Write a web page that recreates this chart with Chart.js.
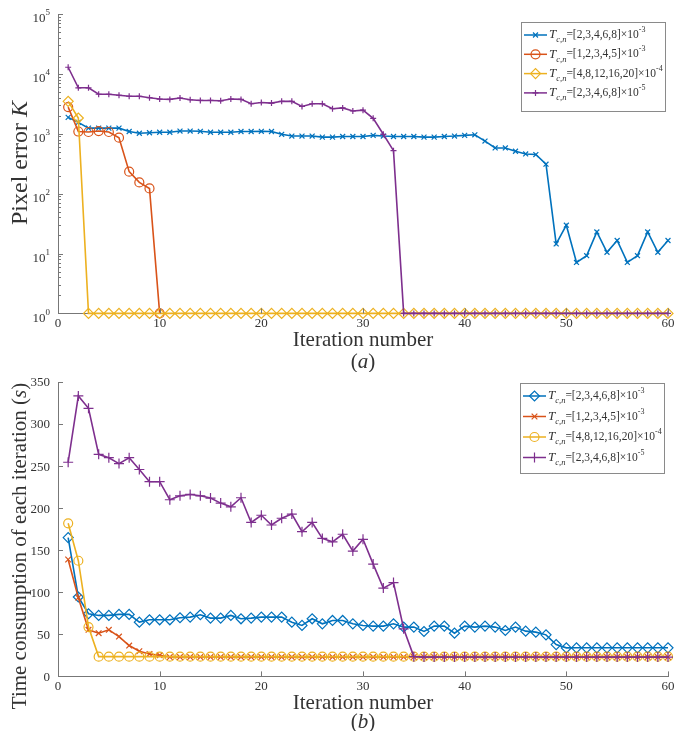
<!DOCTYPE html>
<html>
<head>
<meta charset="utf-8">
<script src="https://cdn.jsdelivr.net/npm/chart.js@4.4.0/dist/chart.umd.min.js"></script>
<style>
body { margin: 0; background: #fff; width: 680px; height: 731px; overflow: hidden; position: relative; }
canvas { position: absolute; left: 0; }
#grafica_a { top: 0; }
#grafica_b { top: 366px; }
</style>
</head>
<body>
<canvas id="grafica_a" width="680" height="372"></canvas>
<canvas id="grafica_b" width="680" height="365"></canvas>
<script>
// datos
const iteraciones = [1,2,3,4,5,6,7,8,9,10,11,12,13,14,15,16,17,18,19,20,
  21,22,23,24,25,26,27,28,29,30,31,32,33,34,35,36,37,38,39,40,
  41,42,43,44,45,46,47,48,49,50,51,52,53,54,55,56,57,58,59,60];

const nombresSerie = ['=[2,3,4,6,8]\u00d710', '=[1,2,3,4,5]\u00d710', '=[4,8,12,16,20]\u00d710', '=[2,3,4,6,8]\u00d710'];
const exponentesSerie = ['-3', '-3', '-4', '-5'];

const ticksX = [0, 10, 20, 30, 40, 50, 60];
const ticksErrorY = [1, 10, 100, 1000, 10000, 100000];
const exponentesErrorY = ['0', '1', '2', '3', '4', '5'];
const ticksTiempoY = [0, 50, 100, 150, 200, 250, 300, 350];

// (a) error de pixel K
const errorSerie1 = [1880,1550,1240,1240,1240,1240,1090,1020,1040,1060,
  1060,1110,1110,1100,1060,1060,1060,1090,1090,1100,
  1090,980,915,915,915,880,880,900,900,900,
  940,915,900,900,900,880,880,900,915,940,
  960,755,580,580,510,460,450,310,14.5,29.7,
  7.1,9.2,22.9,10.5,16.5,7.1,9.2,22.9,10.5,16.5];
const errorSerie2 = [2790,1090,1070,1110,1070,860,233,154,122,1,
  null,null,null,null,null,null,null,null,null,null,
  null,null,null,null,null,null,null,null,null,null,
  null,null,null,null,null,null,null,null,null,null,
  null,null,null,null,null,null,null,null,null,null,
  null,null,null,null,null,null,null,null,null,null];
const errorSerie3 = [3480,1830,1,1,1,1,1,1,1,1,
  1,1,1,1,1,1,1,1,1,1, 1,1,1,1,1,1,1,1,1,1,
  1,1,1,1,1,1,1,1,1,1, 1,1,1,1,1,1,1,1,1,1,
  1,1,1,1,1,1,1,1,1,1];
const errorSerie4 = [12900,5850,5850,4570,4570,4400,4230,4230,4000,3800,
  3750,3950,3700,3600,3600,3550,3800,3750,3170,3330,
  3250,3480,3480,2860,3170,3170,2620,2700,2400,2480,
  1810,980,522,1,1,1,1,1,1,1,
  1,1,1,1,1,1,1,1,1,1, 1,1,1,1,1,1,1,1,1,1];

// (b) tiempo por iteracion (s)
const tiempoSerie1 = [165,94.4,74.5,72.5,72.5,73.7,73.7,64.5,67.3,67.3,
  67.3,69.7,70.5,73.3,69.3,69.3,72.5,68.5,69.3,70.5,
  70.5,70.5,64.5,60.6,68.5,62.5,66.5,66.5,62.5,60.6,
  59.8,59.8,62.5,58.6,58.6,53.4,59.8,59.8,51.4,59.8,
  58.6,59.8,58.6,54.6,58.6,53.8,52.6,49.4,37.8,33.9,
  34,34,34,34,34,34,34,34,34,34];
const tiempoSerie2 = [139,93.6,55.4,51.4,55.4,47.4,36.7,29.9,26.7,25,
  23,23,23,23,23,23,23,23,23,23, 23,23,23,23,23,23,23,23,23,23,
  23,23,23,23,23,23,23,23,23,23, 23,23,23,23,23,23,23,23,23,23,
  23,23,23,23,23,23,23,23,23,23];
const tiempoSerie3 = [182,137.5,58.6,23.5,23.5,23.5,23.5,23.5,23.5,23.5,
  23.5,23.5,23.5,23.5,23.5,23.5,23.5,23.5,23.5,23.5,
  23.5,23.5,23.5,23.5,23.5,23.5,23.5,23.5,23.5,23.5,
  23.5,23.5,23.5,23.5,23.5,23.5,23.5,23.5,23.5,23.5,
  23.5,23.5,23.5,23.5,23.5,23.5,23.5,23.5,23.5,23.5,
  23.5,23.5,23.5,23.5,23.5,23.5,23.5,23.5,23.5,23.5];
const tiempoSerie4 = [254.6,333.5,318.7,264,260,253,260,246,231.5,231.5,
  210,214.7,216.3,214.7,212,206,201.6,212.4,183,191.6,
  180,188,193,172,183,164,160,169,149,163,
  133.5,105,111.5,56.6,23.5,23,23,23,23,23,
  23,23,23,23,23,23,23,23,23,23, 23,23,23,23,23,23,23,23,23,23];

const colores = ['#0072BD', '#D95319', '#EDB120', '#7E2F8E'];
const FUENTE = '"Liberation Serif", "Times New Roman", serif';
const COLOR_TEXTO = '#333';
const COLOR_EJE = '#777';

function fuente(p) {
  return (p.italic ? 'italic ' : '') + p.size + 'px ' + FUENTE;
}

// texto con partes en cursiva / subindice / superindice
function escribir(ctx, partes, x, y, alinear) {
  let total = 0;
  partes.forEach(p => { ctx.font = fuente(p); p.w = ctx.measureText(p.t).width; total += p.w; });
  let cx = alinear === 'center' ? x - total / 2 : (alinear === 'right' ? x - total : x);
  partes.forEach(p => {
    ctx.font = fuente(p);
    ctx.fillText(p.t, cx, y + (p.dy || 0));
    cx += p.w;
  });
}

const dibujoMatlab = {
  id: 'dibujoMatlab',
  afterDraw(chart, args, opts) {
    const ctx = chart.ctx;
    const a = chart.chartArea;
    const sx = chart.scales.x, sy = chart.scales.y;
    ctx.save();
    // marcas hacia dentro
    ctx.strokeStyle = COLOR_EJE;
    ctx.lineWidth = 1;
    ctx.beginPath();
    ticksX.forEach(v => {
      const px = Math.round(sx.getPixelForValue(v)) + 0.5;
      ctx.moveTo(px, a.bottom); ctx.lineTo(px, a.bottom - 5);
    });
    opts.ticksY.forEach(v => {
      const py = Math.round(sy.getPixelForValue(v)) + 0.5;
      ctx.moveTo(a.left, py); ctx.lineTo(a.left + 5, py);
    });
    (opts.menores || []).forEach(v => {
      const py = Math.round(sy.getPixelForValue(v)) + 0.5;
      ctx.moveTo(a.left, py); ctx.lineTo(a.left + 3, py);
    });
    ctx.stroke();

    // etiquetas eje y
    ctx.fillStyle = COLOR_TEXTO;
    ctx.textBaseline = 'middle';
    opts.ticksY.forEach((v, i) => {
      const py = sy.getPixelForValue(v);
      if (opts.exponentes) {
        escribir(ctx, [{ t: '10', size: 13, dy: 5 }, { t: opts.exponentes[i], size: 9, dy: -1 }], a.left - 8, py, 'right');
      } else {
        escribir(ctx, [{ t: String(v), size: 13, dy: 1 }], a.left - 8, py, 'right');
      }
    });

    // titulo eje y (rotado)
    ctx.save();
    ctx.translate(opts.tituloY.x, opts.tituloY.y);
    ctx.rotate(-Math.PI / 2);
    escribir(ctx, opts.tituloY.partes, 0, 0, 'center');
    ctx.restore();

    // (a) / (b)
    escribir(ctx, [{ t: '(', size: 21 }, { t: opts.letra, size: 21, italic: true }, { t: ')', size: 21 }],
      (a.left + a.right) / 2, a.bottom + opts.letraDy, 'center');

    // leyenda
    const L = opts.leyenda;
    ctx.fillStyle = '#fff';
    ctx.fillRect(L.x, L.y, L.w, L.h);
    ctx.strokeStyle = '#8a8a8a';
    ctx.strokeRect(L.x + 0.5, L.y + 0.5, L.w, L.h);
    chart.data.datasets.forEach((ds, i) => {
      const fy = L.y + L.fila0 + i * L.paso;
      ctx.strokeStyle = ds.borderColor;
      ctx.lineWidth = 1.5;
      ctx.beginPath();
      ctx.moveTo(L.x + 3, fy); ctx.lineTo(L.x + 26, fy);
      ctx.stroke();
      ctx.fillStyle = 'rgba(0,0,0,0)';
      ctx.lineWidth = ds.pointBorderWidth;
      Chart.helpers.drawPoint(ctx, { pointStyle: ds.pointStyle, rotation: 0, radius: ds.pointRadius, borderWidth: ds.pointBorderWidth }, L.x + 14.5, fy);
      ctx.fillStyle = COLOR_TEXTO;
      escribir(ctx, [
        { t: 'T', size: 13, italic: true },
        { t: 'c,n', size: 8.5, italic: true, dy: 5 },
        { t: nombresSerie[i], size: 11.5 },
        { t: exponentesSerie[i], size: 8, dy: -5 }
      ], L.x + 28, fy, 'left');
    });
    ctx.restore();
  }
};

function serie(datos, i, estilo, radio) {
  return {
    data: datos,
    borderColor: colores[i],
    borderWidth: 1.6,
    pointStyle: estilo,
    pointRadius: radio,
    pointBorderWidth: 1.2,
    pointBorderColor: colores[i],
    pointBackgroundColor: 'rgba(0,0,0,0)',
    tension: 0,
    clip: false,
    spanGaps: false,
    order: 4 - i
  };
}

function ejes(tipoY, minY, maxY) {
  return {
    x: {
      type: 'linear', min: 0, max: 60,
      grid: { display: false, drawTicks: false },
      border: { color: COLOR_EJE, width: 1 },
      afterBuildTicks: s => { s.ticks = ticksX.map(v => ({ value: v })); },
      ticks: { color: COLOR_TEXTO, padding: 2, font: { family: FUENTE, size: 13 } },
      title: { display: true, text: 'Iteration number', color: COLOR_TEXTO, padding: { top: -3, bottom: 0 },
        font: { family: FUENTE, size: 21, lineHeight: 1.0 } }
    },
    y: {
      type: tipoY, min: minY, max: maxY,
      grid: { display: false, drawTicks: false },
      border: { color: COLOR_EJE, width: 1 },
      ticks: { display: false }
    }
  };
}

const menoresLog = [];
for (let n = 0; n < 5; n++) for (let k = 2; k <= 9; k++) menoresLog.push(k * Math.pow(10, n));

new Chart(document.getElementById('grafica_a'), {
  type: 'line',
  data: {
    labels: iteraciones,
    datasets: [
      serie(errorSerie1, 0, 'crossRot', 3.5),
      serie(errorSerie2, 1, 'circle', 4.5),
      serie(errorSerie3, 2, 'rectRot', 5),
      serie(errorSerie4, 3, 'cross', 3)
    ]
  },
  options: {
    responsive: false,
    animation: false,
    layout: { padding: { left: 58, right: 12, top: 14, bottom: 21 } },
    scales: ejes('logarithmic', 1, 100000),
    plugins: {
      legend: { display: false },
      tooltip: { enabled: false },
      dibujoMatlab: {
        ticksY: ticksErrorY,
        exponentes: exponentesErrorY,
        menores: menoresLog,
        tituloY: { x: 21, y: 163, partes: [{ t: 'Pixel error ', size: 24 }, { t: 'K', size: 24, italic: true }] },
        letra: 'a', letraDy: 49,
        leyenda: { x: 521, y: 22, w: 144, h: 89, fila0: 13, paso: 19.3 }
      }
    }
  },
  plugins: [dibujoMatlab]
});

new Chart(document.getElementById('grafica_b'), {
  type: 'line',
  data: {
    labels: iteraciones,
    datasets: [
      serie(tiempoSerie1, 0, 'rectRot', 5),
      serie(tiempoSerie2, 1, 'crossRot', 4),
      serie(tiempoSerie3, 2, 'circle', 4.5),
      serie(tiempoSerie4, 3, 'cross', 5)
    ]
  },
  options: {
    responsive: false,
    animation: false,
    layout: { padding: { left: 58, right: 12, top: 16, bottom: 17 } },
    scales: ejes('linear', 0, 350),
    plugins: {
      legend: { display: false },
      tooltip: { enabled: false },
      dibujoMatlab: {
        ticksY: ticksTiempoY,
        tituloY: { x: 20, y: 180, partes: [{ t: 'Time consumption of each iteration (', size: 21 }, { t: 's', size: 21, italic: true }, { t: ')', size: 21 }] },
        letra: 'b', letraDy: 46,
        leyenda: { x: 520, y: 17, w: 144, h: 90, fila0: 13, paso: 20.5 }
      }
    }
  },
  plugins: [dibujoMatlab]
});
</script>
</body>
</html>
